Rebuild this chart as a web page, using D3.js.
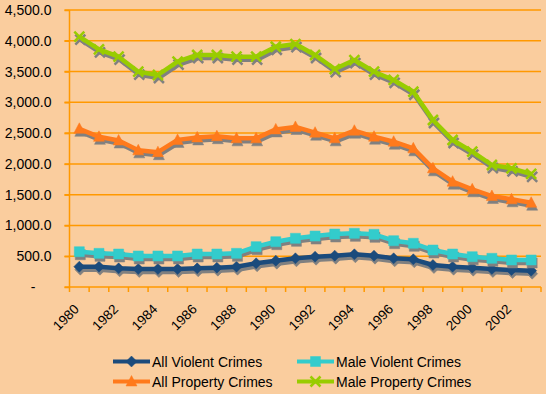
<!DOCTYPE html>
<html>
<head>
<meta charset="utf-8">
<script src="https://cdn.jsdelivr.net/npm/d3@7"></script>
<style>
  body { margin: 0; background: #facd9e; }
  text { font-family: "Liberation Sans", Arial, sans-serif; fill: #000; }
</style>
</head>
<body>
<div id="chart"></div>
<script>
// data
var years = d3.range(1980, 2004);
var labelYears = [1980, 1982, 1984, 1986, 1988, 1990, 1992, 1994, 1996, 1998, 2000, 2002];
var yTicks = [0, 500, 1000, 1500, 2000, 2500, 3000, 3500, 4000, 4500];

var allViolent = [330, 330, 303, 292, 292, 292, 303, 314, 330, 385, 428, 466,
                  492, 509, 531, 509, 466, 450, 357, 330, 314, 292, 276, 265];
var maleViolent = [573, 547, 536, 504, 504, 504, 536, 536, 547, 655, 736, 791,
                   828, 861, 872, 856, 752, 710, 601, 536, 492, 466, 439, 439];
var allProperty = [2570, 2440, 2380, 2220, 2190, 2390, 2430, 2450, 2415, 2415, 2560, 2600,
                   2507, 2415, 2539, 2442, 2360, 2253, 1928, 1711, 1587, 1478, 1425, 1369];
var maleProperty = [4066, 3861, 3741, 3497, 3444, 3660, 3769, 3769, 3741, 3741, 3903, 3947,
                    3769, 3541, 3687, 3497, 3363, 3172, 2713, 2388, 2198, 1982, 1928, 1836];

var seriesNames = ['All Violent Crimes', 'Male Violent Crimes', 'All Property Crimes', 'Male Property Crimes'];
var seriesValues = [allViolent, maleViolent, allProperty, maleProperty];
var seriesColors = ['#1b4b7c', '#33cccc', '#ff7a1c', '#99cc00'];
var seriesMarkers = ['diamond', 'square', 'triangle', 'x'];

var W = 546, H = 394;
var plot = {left: 69.5, right: 541, top: 10, bottom: 287};
var grid = '#ff9900';

var xScale = d3.scaleBand().domain(years).range([plot.left, plot.right]);
var yScale = d3.scaleLinear().domain([0, 4500]).range([plot.bottom, plot.top]);
var cx = function(yr) { return xScale(yr) + xScale.bandwidth() / 2; };

var markerPath = {
    diamond: 'M0,-5.5L5.5,0L0,5.5L-5.5,0Z',
    square: 'M-5,-5H5V5H-5Z',
    triangle: 'M0,-6L5.5,4.5L-5.5,4.5Z',
    x: 'M-5,-5L5,5M-5,5L5,-5'
};

var svg = d3.select('#chart').append('svg')
    .attr('width', W)
    .attr('height', H);

svg.append('rect').attr('width', W).attr('height', H).attr('fill', '#facd9e');

// gridlines
svg.append('g')
    .selectAll('line')
    .data(yTicks.filter(d => d > 0))
    .join('line')
    .attr('x1', plot.left - 5).attr('x2', plot.right)
    .attr('y1', d => yScale(d)).attr('y2', d => yScale(d))
    .attr('stroke', grid).attr('stroke-width', 1.5);

// y axis
var yAxis = d3.axisLeft(yScale)
    .tickValues(yTicks)
    .tickSize(5)
    .tickPadding(18)
    .tickFormat(d => d === 0 ? '-' : d3.format(',.1f')(d));
var yg = svg.append('g').attr('transform', 'translate(' + plot.left + ',0)').call(yAxis);
yg.select('.domain').remove();
yg.selectAll('.tick line').attr('stroke', grid).attr('stroke-width', 1.5);
yg.selectAll('.tick text').attr('font-size', 14)
    .attr('font-family', '"Liberation Sans", Arial, sans-serif')
    .attr('fill', '#000')
    .attr('x', d => d === 0 ? -34 : -18);
svg.append('line')
    .attr('x1', plot.left).attr('x2', plot.left)
    .attr('y1', plot.top).attr('y2', plot.bottom)
    .attr('stroke', grid).attr('stroke-width', 1.5);

// x axis: ticks between categories
svg.append('g')
    .selectAll('line')
    .data(years.concat([null]))
    .join('line')
    .attr('x1', d => d === null ? plot.right : xScale(d))
    .attr('x2', d => d === null ? plot.right : xScale(d))
    .attr('y1', plot.bottom).attr('y2', plot.bottom + 5)
    .attr('stroke', grid).attr('stroke-width', 1.5);
svg.append('line')
    .attr('x1', plot.left - 5).attr('x2', plot.right)
    .attr('y1', plot.bottom).attr('y2', plot.bottom)
    .attr('stroke', grid).attr('stroke-width', 1.5);

var xAxis = d3.axisBottom(xScale).tickValues(labelYears).tickSize(0);
var xg = svg.append('g').attr('transform', 'translate(0,' + plot.bottom + ')').call(xAxis);
xg.select('.domain').remove();
xg.selectAll('.tick text')
    .attr('font-size', 13.5)
    .attr('font-family', '"Liberation Sans", Arial, sans-serif')
    .attr('fill', '#000')
    .attr('text-anchor', 'end')
    .attr('x', 0).attr('y', 0).attr('dy', 0)
    .attr('transform', 'translate(0.5,23) rotate(-45)');

// series
var lineGen = d3.line()
    .x((d, i) => cx(years[i]))
    .y(d => yScale(d));

var drawSeries = function(g, vals, color, marker, shadow) {
    g.append('path')
        .attr('d', lineGen(vals))
        .attr('fill', 'none')
        .attr('stroke', color)
        .attr('stroke-width', 4.5)
        .attr('stroke-linejoin', 'round');
    g.selectAll('.mk')
        .data(vals)
        .join('path')
        .attr('class', 'mk')
        .attr('transform', (d, i) => 'translate(' + cx(years[i]) + ',' + yScale(d) + ')')
        .attr('d', markerPath[marker])
        .attr('fill', marker === 'x' ? 'none' : color)
        .attr('stroke', color)
        .attr('stroke-width', marker === 'x' ? 2.5 : 0.5);
};

seriesValues.forEach(function(vals, k) {
    var sh = svg.append('g').attr('transform', 'translate(1,3)');
    drawSeries(sh, vals, '#808080', seriesMarkers[k], true);
    var g = svg.append('g');
    drawSeries(g, vals, seriesColors[k], seriesMarkers[k], false);
});

// legend
var legendPos = [[113, 361.5], [297, 361.5], [113, 381.5], [297, 381.5]];
var legend = svg.append('g');
seriesNames.forEach(function(name, k) {
    var p = legendPos[k];
    var lg = legend.append('g').attr('transform', 'translate(' + p[0] + ',' + p[1] + ')');
    lg.append('line')
        .attr('x1', 0).attr('x2', 37).attr('y1', 0).attr('y2', 0)
        .attr('stroke', seriesColors[k]).attr('stroke-width', 4);
    lg.append('path')
        .attr('transform', 'translate(18.5,0)')
        .attr('d', markerPath[seriesMarkers[k]])
        .attr('fill', seriesMarkers[k] === 'x' ? 'none' : seriesColors[k])
        .attr('stroke', seriesColors[k])
        .attr('stroke-width', seriesMarkers[k] === 'x' ? 2.5 : 0.5);
    lg.append('text')
        .attr('x', 39).attr('y', 5)
        .attr('font-size', 14)
        .text(name);
});
</script>
</body>
</html>
